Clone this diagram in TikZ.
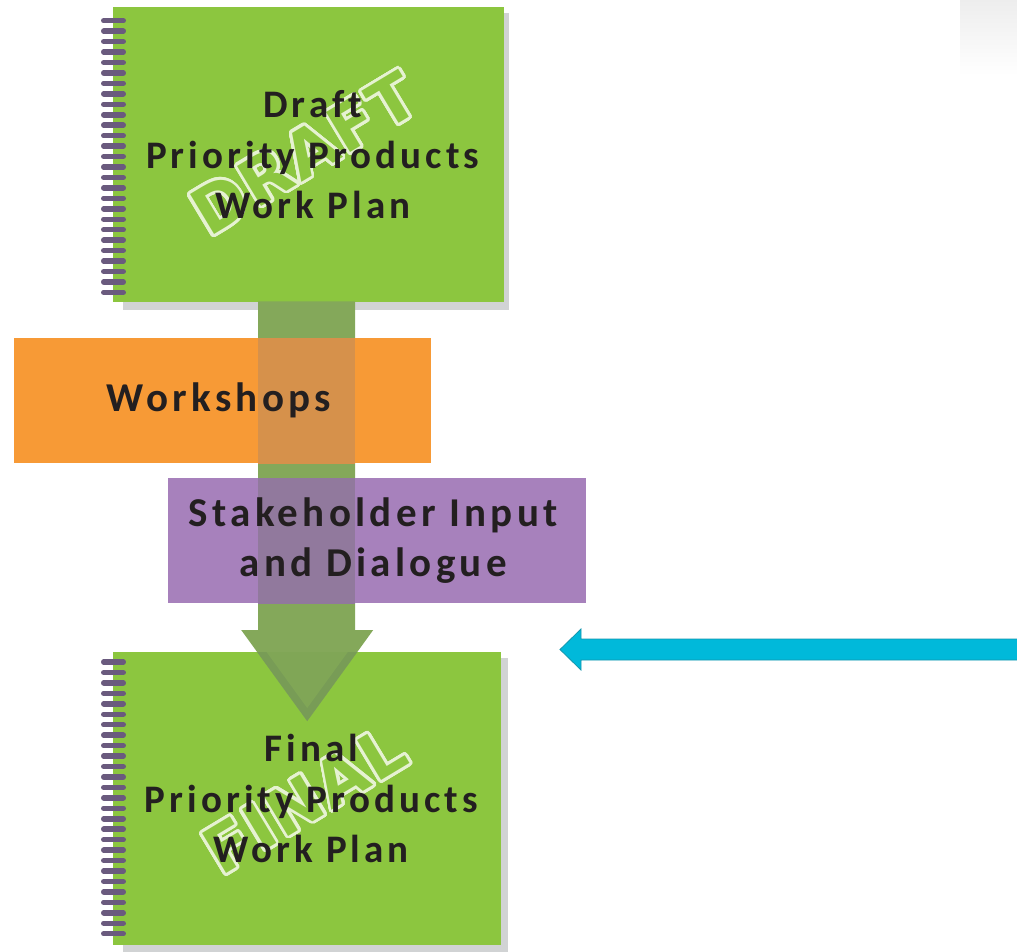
\documentclass[tikz,border=0pt]{standalone}
\usepackage{fontspec}
\setmainfont{Carlito}
\newfontfamily\labelfont[LetterSpace=10.5,RawFeature=-liga]{Carlito}
\newfontfamily\markfont[LetterSpace=4]{DejaVu Sans}
\usepackage{contour}
\contourlength{2.8pt}
\contournumber{48}
\usetikzlibrary{calc,backgrounds}
\definecolor{nbgreen}{HTML}{8CC63F}
\definecolor{shadowc}{HTML}{D1D3D4}
\definecolor{spiralc}{HTML}{6A5A7E}
\definecolor{arrowc}{HTML}{84A85A}
\definecolor{bandc}{HTML}{789C56}
\definecolor{innerc}{HTML}{80A656}
\definecolor{orangec}{HTML}{F79A36}
\definecolor{purplec}{HTML}{A781BC}
\definecolor{ovorange}{HTML}{D6914B}
\definecolor{ovpurple}{HTML}{91799D}
\definecolor{cyanc}{HTML}{00B9DA}
\definecolor{cyanline}{HTML}{1396AE}
\definecolor{textc}{HTML}{231F20}
\definecolor{markc}{HTML}{E6F2D2}
\tikzset{
  labeltext/.style={text=textc, align=center, font=\labelfont\bfseries\fontsize{39}{50.5}\selectfont},
  notebook/.style={labeltext, rectangle, fill=nbgreen, inner sep=0pt, anchor=north west},
  sticker/.style={labeltext, font=\labelfont\bfseries\fontsize{41}{50}\selectfont, rectangle, inner sep=0pt, anchor=north west, minimum height=125},
  markstyle/.style={inner sep=0pt, anchor=center, minimum width=0, minimum height=0, font=\markfont\bfseries\fontsize{64}{64}\selectfont},
  spiralbar/.style={draw=spiralc, line width=5.5, line cap=round},
  shadowbox/.style={fill=shadowc},
  bigarrow/.style={fill=arrowc},
  cyanarrow/.style={fill=cyanc, draw=cyanline, line width=0.8, line join=miter},
}
\begin{document}
\begin{tikzpicture}[x=1pt,y=-1pt]
\useasboundingbox (0,0) rectangle (1017,951);

% notebooks
\node[notebook, minimum width=391, minimum height=295,
  path picture={\node[markstyle, rotate=31] at ($(path picture bounding box.center)+(-4,0)$) {\contour{markc}{\textcolor{nbgreen}{DRAFT}}};}]
  (draft) at (113,7) {\hspace*{8pt}Draft\\\hspace*{8pt}Priority Products\\\hspace*{8pt}Work Plan};
\node[notebook, minimum width=388, minimum height=293,
  path picture={\node[markstyle, rotate=31] at ($(path picture bounding box.center)+(-2,2)$) {\contour{markc}{\textcolor{nbgreen}{FINAL}}};}]
  (final) at (113,652) {\hspace*{8pt}Final\\\hspace*{8pt}Priority Products\\\hspace*{8pt}Work Plan};

\foreach \i in {0,...,26} {
  \draw[spiralbar] ($(draft.north west)+(-9.25,13.7+\i*10.45)$) -- ++(19.5,0);
  \draw[spiralbar] ($(final.north west)+(-9.25,10+\i*10.45)$) -- ++(19.5,0);
}

% big arrow from draft to final
\coordinate (A) at ($(draft.south)+(-2,-1)$);
\coordinate (T) at ($(final.north)+(0,69)$);
\fill[bigarrow] let \p1=(A), \p2=(T) in
  (\x1-48.5pt,\y1) -- (\x1-48.5pt,\y2+91pt) -- (\x2-66pt,\y2+91pt) -- (\p2)
  -- (\x2+66pt,\y2+91pt) -- (\x1+48.5pt,\y2+91pt) -- (\x1+48.5pt,\y1) -- cycle;
\begin{scope}
  \clip (final.north west) rectangle (final.south east);
  \fill[bandc] let \p2=(T) in
    (\x2-66pt,\y2+91pt) -- (\p2) -- (\x2+66pt,\y2+91pt) -- cycle;
  \fill[innerc] let \p2=(T) in
    (\x2-66pt,\y2+104pt) -- (\x2,\y2+13pt) -- (\x2+66pt,\y2+104pt) -- cycle;
\end{scope}

% stickers
\node[sticker, fill=orangec, minimum width=417,
  path picture={\fill[ovorange] ($(A)+(-48.5,0)$) rectangle ($(A)+(48.5,400)$);}]
  (workshops) at (14,338) {Workshops\hspace*{8pt}};
\node[sticker, fill=purplec, minimum width=418,
  path picture={\fill[ovpurple] ($(A)+(-48.5,0)$) rectangle ($(A)+(48.5,400)$);}]
  (stake) at (168,478) {Stakeholder Input\hspace*{8pt}\\and Dialogue\hspace*{8pt}};

% cyan arrow
\coordinate (cs) at (1018,649.5);
\coordinate (ct) at (560,649.5);
\filldraw[cyanarrow] let \p1=(cs), \p2=(ct) in
  (\x1,\y1+10.5pt) -- (\x2+21pt,\y1+10.5pt) -- (\x2+21pt,\y1+20.5pt) -- (\p2)
  -- (\x2+21pt,\y1-20.5pt) -- (\x2+21pt,\y1-10.5pt) -- (\x1,\y1-10.5pt) -- cycle;

\begin{scope}[on background layer]
  \fill[white] (0,0) rectangle (1017,951);
  \shade[top color=black!7, bottom color=white] (960,0) rectangle (1017,76);
  \fill[shadowbox] ($(draft.north west)+(10,6)$) rectangle ($(draft.south east)+(5,8)$);
  \fill[shadowbox] ($(final.north west)+(10,6)$) rectangle ($(final.south east)+(7,7)$);
\end{scope}
\end{tikzpicture}
\end{document}
